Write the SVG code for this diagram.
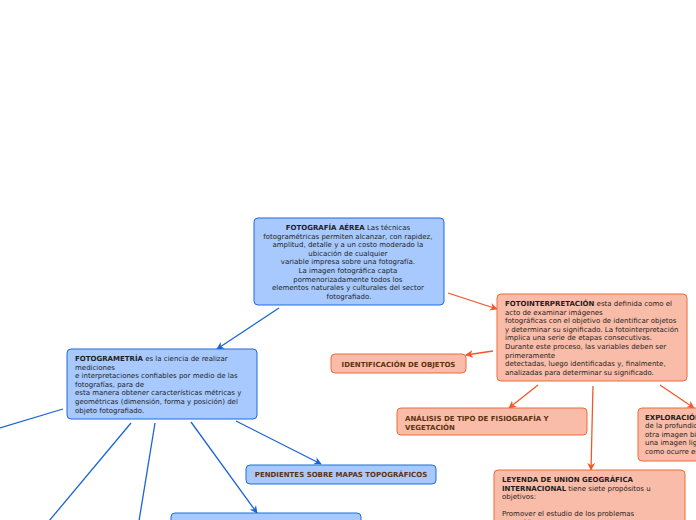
<svg xmlns="http://www.w3.org/2000/svg" width="696" height="520" viewBox="0 0 696 520">
<defs>
<marker id="ab" viewBox="0 0 10 10" refX="9" refY="5" markerWidth="6" markerHeight="6" orient="auto"><path d="M0,0 L10,5 L0,10 L3,5 Z" fill="#1b63d6"/></marker>
<marker id="ao" viewBox="0 0 10 10" refX="9" refY="5" markerWidth="6" markerHeight="6" orient="auto"><path d="M0,0 L10,5 L0,10 L3,5 Z" fill="#f2572a"/></marker>
</defs>
<style>
text{font-family:"DejaVu Sans","Liberation Sans",sans-serif;font-size:7px;fill:#1e1e1e}
.b{font-weight:bold}
.t{font-weight:bold;fill:#5c3310}
.nb{fill:#a8c9fd;stroke:#1f6be0;stroke-width:1}
.no{fill:#f9bca8;stroke:#f06a3a;stroke-width:1}
.cb{stroke:#1b63d6;stroke-width:1.3;fill:none}
.co{stroke:#f2572a;stroke-width:1.3;fill:none}
</style>
<rect width="696" height="520" fill="#fff"/>
<g id="connectors">
<line class="cb" x1="279" y1="308" x2="217" y2="349" marker-end="url(#ab)"/>
<line class="cb" x1="63" y1="409" x2="0" y2="428"/>
<line class="cb" x1="131" y1="423" x2="49" y2="521"/>
<line class="cb" x1="155" y1="423" x2="139" y2="521"/>
<line class="cb" x1="191" y1="422" x2="257" y2="513" marker-end="url(#ab)"/>
<line class="cb" x1="236" y1="421" x2="321" y2="464" marker-end="url(#ab)"/>
<line class="co" x1="448" y1="293" x2="497" y2="309" marker-end="url(#ao)"/>
<line class="co" x1="493" y1="351" x2="466" y2="355" marker-end="url(#ao)"/>
<line class="co" x1="538" y1="385" x2="509" y2="408" marker-end="url(#ao)"/>
<line class="co" x1="593" y1="386" x2="591" y2="470" marker-end="url(#ao)"/>
<line class="co" x1="660" y1="385" x2="694" y2="408" marker-end="url(#ao)"/>
</g>
<g id="fotografia-aerea">
<rect class="nb" x="254" y="218" width="190" height="87" rx="4"/>
<text text-anchor="middle" x="349">
<tspan x="349" y="230"><tspan class="b">FOTOGRAFÍA AÉREA</tspan> Las técnicas</tspan>
<tspan x="349" y="238.6">fotogramétricas permiten alcanzar, con rapidez,</tspan>
<tspan x="349" y="247.2">amplitud, detalle y a un costo moderado la</tspan>
<tspan x="349" y="255.8">ubicación de cualquier</tspan>
<tspan x="349" y="264.4">variable impresa sobre una fotografía.</tspan>
<tspan x="349" y="273">La imagen fotográfica capta</tspan>
<tspan x="349" y="281.6">pormenorizadamente todos los</tspan>
<tspan x="349" y="290.2">elementos naturales y culturales del sector</tspan>
<tspan x="349" y="298.8">fotografiado.</tspan>
</text>
</g>
<g id="fotogrametria">
<rect class="nb" x="67" y="349" width="190" height="70" rx="4"/>
<text>
<tspan x="75" y="361"><tspan class="b">FOTOGRAMETRÍA</tspan> es la ciencia de realizar</tspan>
<tspan x="75" y="369.6">mediciones</tspan>
<tspan x="75" y="378.2">e interpretaciones confiables por medio de las</tspan>
<tspan x="75" y="386.8">fotografías, para de</tspan>
<tspan x="75" y="395.4">esta manera obtener características métricas y</tspan>
<tspan x="75" y="404">geométricas (dimensión, forma y posición) del</tspan>
<tspan x="75" y="412.6">objeto fotografiado.</tspan>
</text>
</g>
<g id="fotointerpretacion">
<rect class="no" x="497" y="294" width="190" height="87" rx="4"/>
<text>
<tspan x="505" y="306"><tspan class="b">FOTOINTERPRETACIÓN</tspan> esta definida como el</tspan>
<tspan x="505" y="314.6">acto de examinar imágenes</tspan>
<tspan x="505" y="323.2"> fotográficas con el objetivo de identificar objetos</tspan>
<tspan x="505" y="331.8">y determinar su significado. La fotointerpretación</tspan>
<tspan x="505" y="340.4">implica una serie de etapas consecutivas.</tspan>
<tspan x="505" y="349">Durante este proceso, las variables deben ser</tspan>
<tspan x="505" y="357.6">primeramente</tspan>
<tspan x="505" y="366.2">detectadas, luego identificadas y, finalmente,</tspan>
<tspan x="505" y="374.8">analizadas para determinar su significado.</tspan>
</text>
</g>
<g id="identificacion">
<rect class="no" x="331" y="354" width="135" height="19" rx="4"/>
<text class="t" x="398.5" y="366.5" text-anchor="middle">IDENTIFICACIÓN DE OBJETOS</text>
</g>
<g id="analisis">
<rect class="no" x="397" y="408" width="190" height="27" rx="4"/>
<text class="t"><tspan x="405" y="421">ANÁLISIS DE TIPO DE FISIOGRAFÍA Y</tspan><tspan x="405" y="429.6">VEGETACIÓN</tspan></text>
</g>
<g id="exploracion">
<rect class="no" x="638" y="408" width="100" height="53" rx="4"/>
<text>
<tspan x="645" y="419.5" class="b">EXPLORACIÓN</tspan>
<tspan x="645" y="428.1">de la profundidad</tspan>
<tspan x="645" y="436.7">otra imagen bien</tspan>
<tspan x="645" y="445.3">una imagen ligada</tspan>
<tspan x="645" y="453.9">como ocurre en</tspan>
</text>
</g>
<g id="leyenda">
<rect class="no" x="494" y="470" width="191" height="70" rx="4"/>
<text>
<tspan x="502" y="482" class="b">LEYENDA DE UNION GEOGRÁFICA</tspan>
<tspan x="502" y="490.6"><tspan class="b">INTERNACIONAL</tspan> tiene siete propósitos u</tspan>
<tspan x="502" y="499.2">objetivos:</tspan>
<tspan x="502" y="516.4">Promover el estudio de los problemas</tspan>
<tspan x="502" y="525">geográficos</tspan>
</text>
</g>
<g id="pendientes">
<rect class="nb" x="246" y="465" width="190" height="19" rx="4"/>
<text class="t" x="341" y="477" text-anchor="middle">PENDIENTES SOBRE MAPAS TOPOGRÁFICOS</text>
</g>
<g id="nodo-inferior">
<rect class="nb" x="171" y="513" width="190" height="30" rx="4"/>
</g>
</svg>
